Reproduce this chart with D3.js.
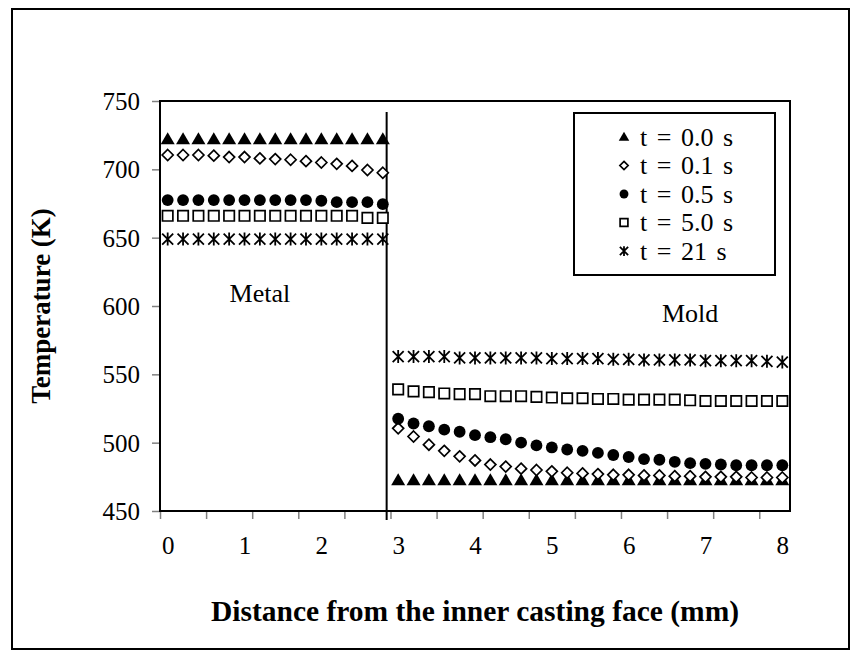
<!DOCTYPE html>
<html>
<head>
<meta charset="utf-8">
<script src="https://cdn.jsdelivr.net/npm/d3@7"></script>
<style>
  html, body { margin: 0; padding: 0; background: #fff; }
  svg text { font-family: "Liberation Serif", "Times New Roman", serif; fill: #000; }
</style>
</head>
<body>
<svg id="chart" width="861" height="658"></svg>
<script>
// Distance from the inner casting face (mm): metal nodes and mold nodes
const distanceMetal = [0, 0.2, 0.4, 0.6, 0.8, 1.0, 1.2, 1.4, 1.6, 1.8, 2.0, 2.2, 2.4, 2.6, 2.8];
const distanceMold = [3.0, 3.2, 3.4, 3.6, 3.8, 4.0, 4.2, 4.4, 4.6, 4.8, 5.0, 5.2, 5.4,
                      5.6, 5.8, 6.0, 6.2, 6.4, 6.6, 6.8, 7.0, 7.2, 7.4, 7.6, 7.8, 8.0];

// Temperatures (K) in the metal
const metalT00 = [722, 722, 722, 722, 722, 722, 722, 722, 722, 722, 722, 722, 722, 722, 722];
const metalT01 = [710.5, 710.5, 710.5, 710, 709, 709, 708, 707.5, 707, 706, 705, 704, 702.5, 699.5, 697.5];
const metalT05 = [677.5, 677.5, 677.5, 677.5, 677.5, 677.5, 677.5, 677.5, 677.5, 677.5, 677, 676, 676, 676, 674.5];
const metalT50 = [666, 666, 666, 666, 666, 666, 666, 666, 666, 666, 666, 666, 666, 664.5, 664.5];
const metalT21 = [649, 649, 649, 649, 649, 649, 649, 649, 649, 649, 649, 649, 649, 649, 649];

// Temperatures (K) in the mold
const moldT00 = [472.5, 472.5, 472.5, 472.5, 472.5, 472.5, 472.5, 472.5, 472.5, 472.5, 472.5, 472.5, 472.5,
                 472.5, 472.5, 472.5, 472.5, 472.5, 472.5, 472.5, 472.5, 472.5, 472.5, 472.5, 472.5, 472.5];
const moldT01 = [510.5, 504.5, 498.5, 494, 490, 487, 484, 482.5, 481, 480, 479, 478, 477.5,
                 477, 476.5, 476.5, 476, 476, 475.5, 475.5, 475, 475, 475, 474.5, 474.5, 474.5];
const moldT05 = [517.5, 514, 512, 509.5, 508, 505.5, 504, 502.5, 500, 498, 496.5, 495, 494,
                 492.5, 491, 489.5, 488, 487.5, 486, 485, 484.5, 484, 483.5, 483.5, 483.5, 483.5];
const moldT50 = [539, 537.5, 537, 536, 535.5, 535.5, 534, 534, 534, 533.5, 533, 532.5, 532.5,
                 532, 532, 531.5, 531.5, 531.5, 531.5, 531, 530.5, 530.5, 530.5, 530.5, 530.5, 530.5];
const moldT21 = [563, 563, 563, 563, 562, 562, 562, 562, 562, 562, 561.5, 561.5, 561.5,
                 561.5, 561, 561, 560.5, 560.5, 560.5, 560.5, 560, 560, 560, 560, 559.5, 559];

const seriesNames = ["t = 0.0 s", "t = 0.1 s", "t = 0.5 s", "t = 5.0 s", "t = 21 s"];
const seriesShapes = ["triangle", "diamond", "circle", "square", "asterisk"];
const metalSeries = [metalT00, metalT01, metalT05, metalT50, metalT21];
const moldSeries = [moldT00, moldT01, moldT05, moldT50, moldT21];

// Axis settings
const yTicks = [450, 500, 550, 600, 650, 700, 750];
const xLabels = [0, 1, 2, 3, 4, 5, 6, 7, 8];
const xTickMarks = [-0.1, 0.5, 1.1, 1.7, 2.3, 2.9, 3.5, 4.1, 4.7, 5.3, 5.9, 6.5, 7.1, 7.7];
const interfacePos = 2.85;
const regionLabels = [{ text: "Metal", x: 1.2, y: 603 }, { text: "Mold", x: 6.8, y: 588 }];

const svg = d3.select("#chart");
const plot = { left: 160, right: 790, top: 101, bottom: 511 };

const x = d3.scaleLinear().domain([-0.1, 8.1]).range([plot.left, plot.right]);
const y = d3.scaleLinear().domain([450, 750]).range([plot.bottom, plot.top]);

// outer frame
svg.append("rect").attr("x", 12).attr("y", 9).attr("width", 837).attr("height", 640)
  .attr("fill", "none").attr("stroke", "#000").attr("stroke-width", 2);

// marker shapes
function shapePath(kind, s) {
  switch (kind) {
    case "triangle": return `M0,${-7*s}L${7*s},${5*s}L${-7*s},${5*s}Z`;
    case "diamond": return `M0,${-5.5*s}L${5.5*s},0L0,${5.5*s}L${-5.5*s},0Z`;
    case "circle": return d3.symbol(d3.symbolCircle, 110 * s * s)();
    case "square": return `M${-5.2*s},${-5.2*s}H${5.2*s}V${5.2*s}H${-5.2*s}Z`;
    case "asterisk": return `M0,${-6.5*s}V${6.5*s}M${-5.5*s},${-5.5*s}L${5.5*s},${5.5*s}M${5.5*s},${-5.5*s}L${-5.5*s},${5.5*s}`;
  }
}
function styleMarker(sel, kind) {
  if (kind === "triangle" || kind === "circle") {
    sel.attr("fill", "#000").attr("stroke", "none");
  } else if (kind === "asterisk") {
    sel.attr("fill", "none").attr("stroke", "#000").attr("stroke-width", 1.8);
  } else {
    sel.attr("fill", "#fff").attr("stroke", "#000").attr("stroke-width", 1.7);
  }
}

// y axis
const yAxis = d3.axisLeft(y).tickValues(yTicks).tickSize(8).tickFormat(d3.format("d"));
const gy = svg.append("g").attr("transform", `translate(${plot.left},0)`).call(yAxis);
gy.select(".domain").remove();
gy.selectAll(".tick line").attr("stroke", "#808080").attr("stroke-width", 1.5);
gy.selectAll(".tick text").attr("x", -20).attr("font-size", 25).attr("dy", "0.34em")
  .style("font-family", "'Liberation Serif', serif");

// x axis tick marks (category boundaries)
const xAxisMarks = d3.axisBottom(x).tickValues(xTickMarks).tickSize(8).tickFormat("");
const gx = svg.append("g").attr("transform", `translate(0,${plot.bottom})`).call(xAxisMarks);
gx.select(".domain").remove();
gx.selectAll(".tick line").attr("stroke", "#808080").attr("stroke-width", 1.5);

// x axis labels
const xAxisLabels = d3.axisBottom(x).tickValues(xLabels).tickSize(0).tickFormat(d3.format("d"));
const gxl = svg.append("g").attr("transform", `translate(0,${plot.bottom})`).call(xAxisLabels);
gxl.select(".domain").remove();
gxl.selectAll(".tick text").attr("y", 34).attr("dy", "0.34em").attr("font-size", 25)
  .style("font-family", "'Liberation Serif', serif");

// plot frame
svg.append("rect").attr("x", plot.left).attr("y", plot.top)
  .attr("width", plot.right - plot.left).attr("height", plot.bottom - plot.top)
  .attr("fill", "none").attr("stroke", "#000").attr("stroke-width", 2);

// metal/mold interface
svg.append("line").attr("x1", x(interfacePos)).attr("x2", x(interfacePos))
  .attr("y1", 112).attr("y2", 520).attr("stroke", "#000").attr("stroke-width", 2);

// data markers
const marks = svg.append("g");
seriesNames.forEach((name, k) => {
  const pts = distanceMetal.map((d, i) => ({ d, v: metalSeries[k][i] }))
    .concat(distanceMold.map((d, i) => ({ d, v: moldSeries[k][i] })));
  marks.append("g").selectAll("path").data(pts).join("path")
    .attr("transform", p => `translate(${x(p.d)},${y(p.v)})`)
    .attr("d", shapePath(seriesShapes[k], 1))
    .call(styleMarker, seriesShapes[k]);
});

// region labels
regionLabels.forEach(r => {
  svg.append("text").attr("x", x(r.x)).attr("y", y(r.y)).attr("text-anchor", "middle")
    .attr("font-size", 26).text(r.text);
});

// legend
const lg = svg.append("g");
lg.append("rect").attr("x", 574).attr("y", 113).attr("width", 201).attr("height", 162)
  .attr("fill", "#fff").attr("stroke", "#000").attr("stroke-width", 2);
seriesNames.forEach((name, k) => {
  const cy = 137 + k * 28.5;
  lg.append("path").attr("transform", `translate(624,${cy})`)
    .attr("d", shapePath(seriesShapes[k], 0.75)).call(styleMarker, seriesShapes[k]);
  lg.append("text").attr("x", 640).attr("y", cy).attr("dy", "0.34em")
    .attr("font-size", 26).attr("word-spacing", 3).text(name);
});

// axis titles
svg.append("text").attr("x", (plot.left + plot.right) / 2).attr("y", 621)
  .attr("text-anchor", "middle").attr("font-weight", "bold").attr("font-size", 29.5)
  .text("Distance from the inner casting face (mm)");
svg.append("text").attr("transform", `translate(50,${(plot.top + plot.bottom) / 2}) rotate(-90)`)
  .attr("text-anchor", "middle").attr("font-weight", "bold").attr("font-size", 27)
  .text("Temperature (K)");
</script>
</body>
</html>
